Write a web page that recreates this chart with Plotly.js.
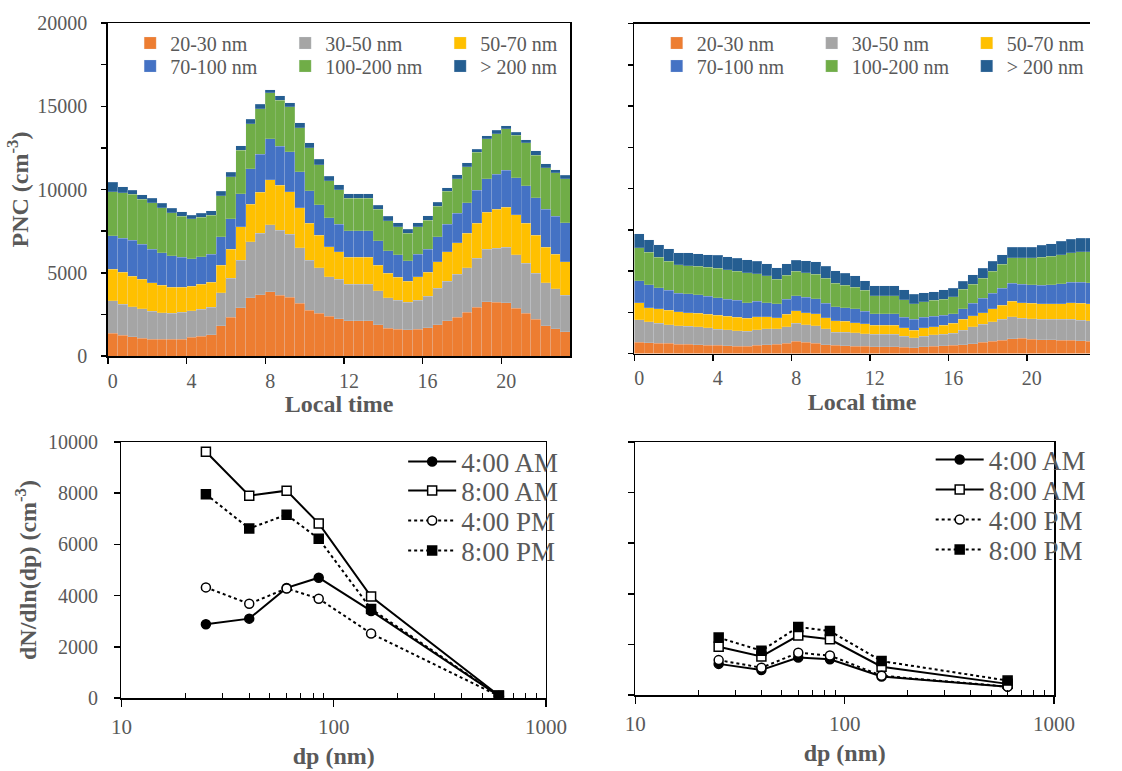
<!DOCTYPE html>
<html><head><meta charset="utf-8">
<script src="https://cdn.plot.ly/plotly-3.0.1.min.js"></script>
<style>html,body{margin:0;padding:0;background:#fff;overflow:hidden}#chart{width:1122px;height:771px}</style>
</head><body><div id="chart"></div>
<script>
// ---- categories ----
const hours = [0,0.5,1,1.5,2,2.5,3,3.5,4,4.5,5,5.5,6,6.5,7,7.5,8,8.5,9,9.5,10,10.5,11,11.5,12,12.5,13,13.5,14,14.5,15,15.5,16,16.5,17,17.5,18,18.5,19,19.5,20,20.5,21,21.5,22,22.5,23];
const sizeBins = ['20-30 nm','30-50 nm','50-70 nm','70-100 nm','100-200 nm','> 200 nm'];
const binColors = ['#ED7D31','#A5A5A5','#FFC000','#4472C4','#70AD47','#255E91'];
const hourTicks = [0,4,8,12,16,20];
const hourTickText = ['0','4','8','12','16','20'];

// ---- top-left panel (site A), PNC per size bin, cm-3 ----
const siteA_20_30 = [1360,1240,1160,1080,1020,1000,1000,1020,1120,1200,1280,1820,2320,2900,3500,3680,3860,3660,3520,3160,2760,2560,2400,2240,2120,2120,2120,1880,1660,1620,1580,1620,1700,1880,2120,2340,2640,2940,3260,3240,3200,2860,2560,2220,1820,1640,1460];
const siteA_30_50 = [1960,1880,1800,1760,1660,1600,1560,1600,1600,1600,1660,1980,2360,2840,3360,3680,4020,3900,3780,3340,3000,2740,2360,2360,2200,2200,2200,2040,1840,1740,1660,1740,1900,2180,2360,2560,2660,2920,3140,3220,3320,3220,3000,2740,2580,2400,2180];
const siteA_50_70 = [1880,1900,1820,1760,1720,1640,1580,1520,1460,1500,1480,1640,1720,2020,2240,2480,2700,2700,2580,2400,2200,1940,1800,1660,1600,1600,1600,1540,1460,1360,1240,1400,1440,1600,1780,1900,2060,2100,2220,2340,2400,2400,2400,2280,2120,2080,2020];
const siteA_70_100 = [2020,2060,2180,2100,2020,1960,1880,1780,1660,1660,1680,1720,1840,1980,2160,2280,2460,2340,2380,2160,1960,1840,1740,1660,1600,1600,1600,1460,1360,1360,1240,1360,1380,1500,1660,1760,1840,2000,2020,2120,2240,2220,2280,2260,2280,2280,2340];
const siteA_100_200 = [2640,2720,2760,2720,2780,2700,2580,2480,2400,2380,2360,2460,2520,2620,2700,2720,2760,2760,2700,2660,2600,2400,2220,2080,1960,1960,1960,1880,1800,1680,1640,1640,1740,1840,1980,2080,2160,2280,2400,2440,2480,2560,2580,2560,2520,2600,2660];
const siteA_200 = [580,360,240,280,260,260,260,260,220,220,260,280,280,280,260,280,200,280,260,280,280,340,280,300,280,280,280,260,280,240,260,240,260,240,200,240,260,180,200,200,200,180,180,260,240,200,200];

// ---- top-right panel (site B) ----
const siteB_20_30 = [690,650,630,610,570,550,530,510,490,470,450,450,490,530,550,610,730,670,610,530,490,470,450,430,410,410,410,390,340,410,450,470,490,530,590,690,750,810,890,930,870,830,830,810,790,770,730];
const siteB_30_50 = [1360,1260,1200,1140,1100,1100,1100,1060,980,960,940,890,960,960,940,1020,1100,1080,1060,980,810,810,810,770,750,750,750,670,610,650,690,710,730,870,1020,1080,1180,1260,1340,1220,1240,1260,1240,1260,1300,1260,1240];
const siteB_50_70 = [1040,870,890,870,850,830,810,810,850,830,810,790,770,750,690,750,750,730,750,670,670,670,610,610,550,550,550,510,470,490,490,530,610,670,670,710,790,850,940,940,940,940,940,960,980,1020,1040];
const siteB_70_100 = [1320,1400,1260,1200,1140,1140,1120,1080,1060,1040,1020,960,960,850,830,910,910,940,910,870,850,830,850,750,690,690,690,630,650,650,630,610,590,650,770,870,940,1040,1100,1100,1120,1120,1160,1200,1260,1260,1280];
const siteB_100_200 = [1990,1950,1850,1770,1710,1710,1730,1770,1790,1790,1770,1790,1650,1630,1500,1460,1480,1480,1480,1520,1440,1360,1300,1260,1100,1100,1100,1060,960,940,960,980,1020,1180,1160,1220,1320,1440,1520,1610,1630,1690,1730,1770,1790,1870,1890];
const siteB_200 = [850,750,750,750,730,770,770,770,770,770,790,790,770,710,690,690,690,730,750,710,750,730,690,590,610,610,610,590,550,530,510,550,510,470,570,610,610,590,650,650,650,710,750,790,790,810,810];

// ---- bottom panels: size distributions ----
const dp = [25,40,60,85,150,600];
const profileLabels = ['4:00 AM','8:00 AM','4:00 PM','8:00 PM'];
const siteA_4am = [2880,3100,4300,4700,3400,80];
const siteA_8am = [9620,7900,8100,6820,3960,100];
const siteA_4pm = [4320,3680,4280,3880,2520,80];
const siteA_8pm = [7960,6620,7160,6220,3480,90];
const siteB_4am = [1230,990,1480,1410,730,330];
const siteB_8am = [1910,1520,2350,2200,1120,440];
const siteB_4pm = [1380,1080,1670,1560,760,330];
const siteB_8pm = [2270,1750,2690,2530,1340,570];

const FONT = '"Liberation Serif", "Times New Roman", serif';
const GRAY = '#595959';
const tickFont = {family: FONT, size: 20, color: GRAY};
const titleFont = {family: FONT, size: 24, color: GRAY};

const W = 1122, H = 771;
const px = v => v / W;
const py = v => 1 - v / H;

const traces = [];
const siteA = [siteA_20_30, siteA_30_50, siteA_50_70, siteA_70_100, siteA_100_200, siteA_200];
const siteB = [siteB_20_30, siteB_30_50, siteB_50_70, siteB_70_100, siteB_100_200, siteB_200];
const barEdge = {width: 0.4, color: 'rgba(225,232,240,0.5)'};
siteA.forEach((vals, i) => traces.push({
  type: 'bar', x: hours, y: vals, name: sizeBins[i], width: 0.5,
  xaxis: 'x', yaxis: 'y', legend: i < 3 ? 'legend' : 'legend2',
  marker: {color: binColors[i], line: barEdge}, hoverinfo: 'skip'
}));
siteB.forEach((vals, i) => traces.push({
  type: 'bar', x: hours, y: vals, name: sizeBins[i], width: 0.5,
  xaxis: 'x2', yaxis: 'y2', legend: i < 3 ? 'legend3' : 'legend4',
  marker: {color: binColors[i], line: barEdge}, hoverinfo: 'skip'
}));

const lineStyles = [
  {dash: 'solid', symbol: 'circle', fill: '#000'},
  {dash: 'solid', symbol: 'square', fill: '#fff'},
  {dash: 'dot', symbol: 'circle', fill: '#fff'},
  {dash: 'dot', symbol: 'square', fill: '#000'}
];
const profA = [siteA_4am, siteA_8am, siteA_4pm, siteA_8pm];
const profB = [siteB_4am, siteB_8am, siteB_4pm, siteB_8pm];
const legendRowsA = [462, 491, 521, 551];
const legendRowsB = [460, 490, 520, 550];
const lineLegends = {};
function lineLegend(x, yc) {
  return {x: px(x), xanchor: 'left', y: py(yc), yanchor: 'middle', orientation: 'v',
    itemwidth: 48, font: {family: FONT, size: 27, color: GRAY}, bgcolor: 'rgba(0,0,0,0)',
    itemclick: false, itemdoubleclick: false};
}
function addProfiles(profs, xa, ya, legStart, legX, rows) {
  profs.forEach((vals, i) => {
    const key = 'legend' + (legStart + i);
    lineLegends[key] = lineLegend(legX, rows[i]);
    traces.push({
      type: 'scatter', mode: 'lines+markers', x: dp, y: vals, name: profileLabels[i],
      xaxis: xa, yaxis: ya, legend: key,
      line: {color: '#000', width: 2, dash: lineStyles[i].dash},
      marker: {symbol: lineStyles[i].symbol, size: 9, color: lineStyles[i].fill, line: {color: '#000', width: 1.5}},
      hoverinfo: 'skip'
    });
  });
}
addProfiles(profA, 'x3', 'y3', 5, 415, legendRowsA);
addProfiles(profB, 'x4', 'y4', 9, 958, legendRowsB);

function hourAxis(domain, range, anchor) {
  return {
    domain: domain, range: range, anchor: anchor,
    tickmode: 'array', tickvals: hourTicks, ticktext: hourTickText, ticks: '',
    minor: {tickmode: 'linear', tick0: -0.25, dtick: 4, ticks: 'outside', ticklen: 6, tickwidth: 1.5, tickcolor: '#000', showgrid: false},
    showline: true, linecolor: '#000', linewidth: 1.5, mirror: true,
    showgrid: false, zeroline: false, tickfont: tickFont, ticklabelstandoff: 6,
    title: {text: '<b>Local time</b>', font: titleFont, standoff: 0}
  };
}
function pncAxis(domain, anchor, labels, mirror) {
  const ax = {
    domain: domain, range: [0, 20000], anchor: anchor,
    tickmode: 'linear', tick0: 0, dtick: 5000, tickformat: 'd', ticks: 'outside', ticklen: 5, tickwidth: 1.5, tickcolor: '#000',
    minor: {dtick: 2500, ticks: 'outside', ticklen: 5, tickwidth: 1.5, tickcolor: '#000', showgrid: false},
    showticklabels: labels, showline: true, linecolor: '#000', linewidth: 1.5, mirror: mirror,
    showgrid: false, zeroline: false, tickfont: tickFont, ticklabelstandoff: 10
  };
  if (labels) ax.title = {text: '<b>PNC (cm<sup>-3</sup>)</b>', font: titleFont, standoff: 2};
  return ax;
}
// inner half of the crossing tick marks on the PNC axes
function pncInnerTicks(overlay, anchor) {
  return {
    overlaying: overlay, anchor: anchor, range: [0, 20000],
    tickmode: 'linear', tick0: 0, dtick: 2500, ticks: 'inside', ticklen: 4, tickwidth: 1.5, tickcolor: '#000',
    showticklabels: false, showline: false, showgrid: false, zeroline: false
  };
}
function dpAxis(domain, anchor) {
  return {
    type: 'log', domain: domain, range: [1, 3], anchor: anchor,
    tickmode: 'array', tickvals: [10, 100, 1000], ticktext: ['10', '100', '1000'],
    ticks: 'outside', ticklen: 7, tickwidth: 1.5, tickcolor: '#000',
    minor: {tickmode: 'array', tickvals: [20,30,40,50,60,70,80,90,200,300,400,500,600,700,800,900], ticks: 'inside', ticklen: 5, tickwidth: 1, tickcolor: '#000', showgrid: false},
    showline: true, linecolor: '#000', linewidth: 1.5, mirror: true,
    showgrid: false, zeroline: false, tickfont: {family: FONT, size: 21, color: GRAY}, ticklabelstandoff: 2,
    title: {text: '<b>dp (nm)</b>', font: titleFont, standoff: 9}
  };
}
function dndAxis(domain, anchor, labels) {
  const ax = {
    domain: domain, range: [0, 10000], anchor: anchor,
    tickmode: 'linear', tick0: 0, dtick: 2000, tickformat: 'd', ticks: 'outside', ticklen: 6, tickwidth: 1.5, tickcolor: '#000',
    showticklabels: labels, showline: true, linecolor: '#000', linewidth: 1.5, mirror: true,
    showgrid: false, zeroline: false, tickfont: tickFont, ticklabelstandoff: 12
  };
  if (labels) ax.title = {text: '<b>dN/dln(dp) (cm<sup>-3</sup>)</b>', font: titleFont, standoff: 4};
  return ax;
}
const legFont = {family: FONT, size: 20, color: GRAY};
function barLegend(x, yc) {
  return {x: px(x), xanchor: 'left', y: py(yc), yanchor: 'middle', orientation: 'h', traceorder: 'normal',
    entrywidth: 110, font: legFont, bgcolor: 'rgba(0,0,0,0)', itemclick: false, itemdoubleclick: false};
}

const layout = Object.assign({
  width: W, height: H, margin: {l: 0, r: 0, t: 0, b: 0},
  paper_bgcolor: '#fff', plot_bgcolor: '#fff',
  barmode: 'stack', bargap: 0,
  font: {family: FONT, color: GRAY},
  xaxis: hourAxis([px(111), px(587)], [-0.25, 23.25], 'y'),
  yaxis: pncAxis([py(356), py(23)], 'x', true, true),
  xaxis2: hourAxis([px(653), 1], [-0.25, 22.97], 'y2'),
  yaxis2: pncAxis([py(353.5), py(23.5)], 'x2', false, false),
  xaxis3: dpAxis([px(125), px(562)], 'y3'),
  yaxis3: dndAxis([py(698), py(442)], 'x3', true),
  xaxis4: dpAxis([px(654), px(1085)], 'y4'),
  yaxis4: dndAxis([py(695), py(442)], 'x4', false),
  yaxis5: pncInnerTicks('y', 'x'),
  yaxis6: pncInnerTicks('y2', 'x2'),
  legend: barLegend(134, 43),
  legend2: barLegend(134, 66),
  legend3: barLegend(676, 43),
  legend4: barLegend(676, 66),
  showlegend: true
}, lineLegends);

Plotly.newPlot('chart', traces, layout, {displayModeBar: false, staticPlot: true});
</script></body></html>
